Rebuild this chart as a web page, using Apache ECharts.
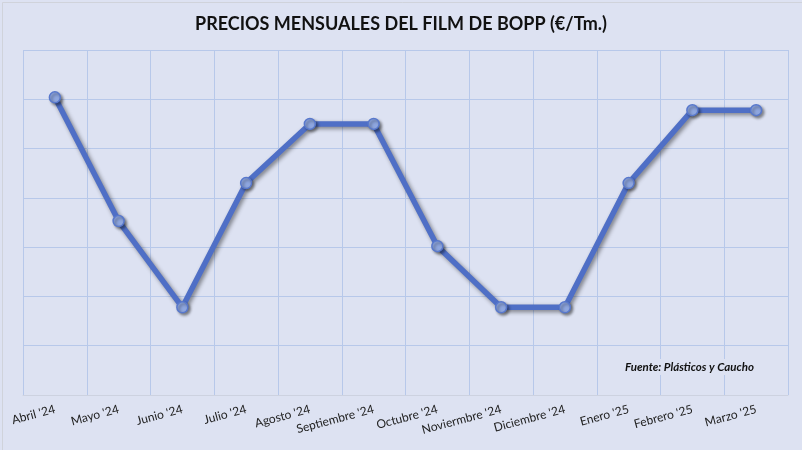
<!DOCTYPE html>
<html>
<head>
<meta charset="utf-8">
<script src="https://cdn.jsdelivr.net/npm/echarts@6/dist/echarts.min.js"></script>
<style>
html,body{margin:0;padding:0;background:#fff;}
#c{width:802px;height:450px;}
</style>
</head>
<body>
<div id="c"></div>
<script>
const titleText = "PRECIOS MENSUALES DEL FILM DE BOPP (€/Tm.)";
const sourceText = "Fuente: Plásticos y Caucho";
const months = ["Abril '24","Mayo '24","Junio '24","Julio '24","Agosto '24","Septiembre '24","Octubre '24","Noviermbre '24","Diciembre '24","Enero '25","Febrero '25","Marzo '25"];
const prices = [6.04, 3.53, 1.78, 4.30, 5.50, 5.50, 3.02, 1.78, 1.78, 4.30, 5.78, 5.78];

const chart = echarts.init(document.getElementById('c'));
chart.setOption({
  backgroundColor: '#dde2f2',
  animation: false,
  title: {
    text: titleText,
    left: 'center',
    top: 10,
    textStyle: {fontFamily: 'Lato', fontWeight: 'bold', fontSize: 18, color: '#111'}
  },
  grid: {left: 23, right: 14, top: 50, bottom: 55},
  xAxis: {
    type: 'category',
    data: months,
    boundaryGap: true,
    axisLine: {show: true, lineStyle: {color: '#cdd2e0', width: 1}},
    axisTick: {show: false},
    axisLabel: {rotate: 15, fontFamily: 'Lato', fontSize: 12, color: '#222', margin: 14, interval: 0},
    splitLine: {show: true, lineStyle: {color: '#b7c8ea', width: 1}}
  },
  yAxis: {
    type: 'value',
    min: 0, max: 7, interval: 1,
    axisLabel: {show: false},
    axisLine: {show: false},
    axisTick: {show: false},
    splitLine: {show: true, lineStyle: {color: '#b7c8ea', width: 1}}
  },
  graphic: [
    {type: 'rect', left: 0, top: 0, shape: {width: 801, height: 449}, style: {fill: 'none', stroke: '#d0d3db', lineWidth: 1}, silent: true},
    {type: 'text', left: 622, top: 359, z: 100,
     style: {text: sourceText, font: 'italic bold 11.5px Lato', fill: '#111', backgroundColor: '#dde2f2', padding: [2, 3]}}
  ],
  series: [{
    type: 'line',
    data: prices,
    symbol: 'circle',
    symbolSize: 11,
    lineStyle: {color: '#4f6fc6', width: 5.5, shadowColor: 'rgba(0,0,0,0.45)', shadowBlur: 4, shadowOffsetX: 2, shadowOffsetY: 2},
    itemStyle: {color: '#8ea6df', borderColor: '#5878cc', borderWidth: 1.5, shadowColor: 'rgba(0,0,0,0.4)', shadowBlur: 3, shadowOffsetX: 2, shadowOffsetY: 2}
  }]
});
</script>
</body>
</html>
